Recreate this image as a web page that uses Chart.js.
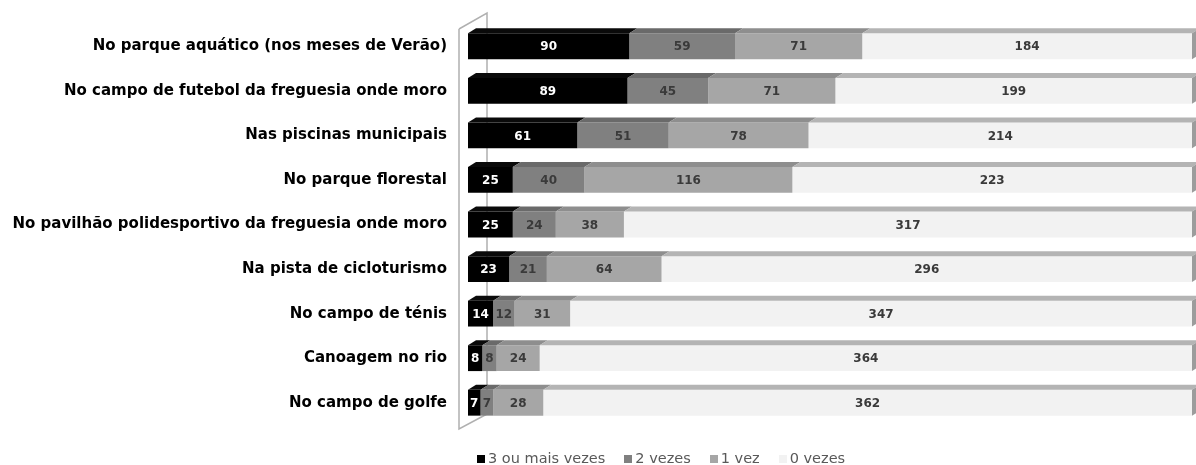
<!DOCTYPE html>
<html>
<head>
<meta charset="utf-8">
<script src="https://cdn.jsdelivr.net/npm/chart.js@4"></script>
<style>
  html, body { margin: 0; padding: 0; background: #fff; }
  #wrap { position: relative; width: 1196px; height: 465px; }
  #legend { position: absolute; left: 477px; top: 450px; font: 14.5px "DejaVu Sans", sans-serif; color: #595959; white-space: nowrap; }
  #legend span.item { margin-right: 19px; }
  #legend i { display: inline-block; width: 8px; height: 8px; margin-right: 3px; vertical-align: 0px; }
</style>
</head>
<body>
<div id="wrap">
  <canvas id="chart" width="1196" height="465"></canvas>
  <div id="legend"></div>
</div>
<script>
// locais e número de vezes que cada um foi frequentado
const locais = [
    'No parque aquático (nos meses de Verão)',
    'No campo de futebol da freguesia onde moro',
    'Nas piscinas municipais',
    'No parque florestal',
    'No pavilhão polidesportivo da freguesia onde moro',
    'Na pista de cicloturismo',
    'No campo de ténis',
    'Canoagem no rio',
    'No campo de golfe'
];
const tresOuMais = [90, 89, 61, 25, 25, 23, 14, 8, 7];
const duasVezes = [59, 45, 51, 40, 24, 21, 12, 8, 7];
const umaVez = [71, 71, 78, 116, 38, 64, 31, 24, 28];
const zeroVezes = [184, 199, 214, 223, 317, 296, 347, 364, 362];

const series = [
    { label: '3 ou mais vezes', data: tresOuMais, cor: '#000000', topo: '#0a0a0a', texto: '#ffffff' },
    { label: '2 vezes', data: duasVezes, cor: '#808080', topo: '#6a6a6a', texto: '#3a3a3a' },
    { label: '1 vez', data: umaVez, cor: '#a6a6a6', topo: '#8e8e8e', texto: '#3a3a3a' },
    { label: '0 vezes', data: zeroVezes, cor: '#f2f2f2', topo: '#b4b4b4', texto: '#3a3a3a' }
];

const DX = 8, DY = 5; // profundidade do efeito 3D

// parede lateral (linhas cinzentas atrás das barras)
const parede = {
    id: 'parede',
    beforeDatasetsDraw(chart) {
        const { ctx, chartArea: a } = chart;
        const xf = a.left - 9, xb = a.left + 19;
        ctx.save();
        ctx.strokeStyle = '#b0b0b0';
        ctx.lineWidth = 1.5;
        ctx.beginPath();
        ctx.moveTo(xf, a.top + 5);
        ctx.lineTo(xf, a.bottom + 4);
        ctx.lineTo(xb, a.bottom - 11);
        ctx.moveTo(xf, a.top + 5);
        ctx.lineTo(xb, a.top - 11);
        ctx.lineTo(xb, a.bottom - 11);
        ctx.stroke();
        ctx.restore();
    }
};

// faces de cima e lateral das barras + valores
const barras3d = {
    id: 'barras3d',
    afterDatasetsDraw(chart) {
        const ctx = chart.ctx;
        ctx.save();
        chart.data.datasets.forEach((ds, i) => {
            const meta = chart.getDatasetMeta(i);
            const s = series[i];
            meta.data.forEach((bar, j) => {
                const { x, y, base, height } = bar.getProps(['x', 'y', 'base', 'height'], true);
                const top = y - height / 2;
                ctx.fillStyle = s.topo;
                ctx.beginPath();
                ctx.moveTo(base, top);
                ctx.lineTo(base + DX, top - DY);
                ctx.lineTo(x + DX, top - DY);
                ctx.lineTo(x, top);
                ctx.closePath();
                ctx.fill();
                if (i === chart.data.datasets.length - 1) {
                    ctx.fillStyle = '#9c9c9c';
                    ctx.beginPath();
                    ctx.moveTo(x, top);
                    ctx.lineTo(x + DX, top - DY);
                    ctx.lineTo(x + DX, top + height - DY);
                    ctx.lineTo(x, top + height);
                    ctx.closePath();
                    ctx.fill();
                }
                ctx.fillStyle = s.texto;
                ctx.font = 'bold 12px "DejaVu Sans", sans-serif';
                ctx.textAlign = 'center';
                ctx.textBaseline = 'middle';
                ctx.fillText(String(ds.data[j]), (x + base) / 2, y + 1);
            });
        });
        ctx.restore();
    }
};

const chart = new Chart(document.getElementById('chart'), {
    type: 'bar',
    data: {
        labels: locais,
        datasets: series.map(s => ({
            label: s.label,
            data: s.data,
            backgroundColor: s.cor,
            borderWidth: 0,
            barPercentage: 0.58,
            categoryPercentage: 1
        }))
    },
    options: {
        indexAxis: 'y',
        responsive: false,
        animation: false,
        layout: { padding: { top: 24, right: 4, bottom: 40, left: 0 } },
        scales: {
            x: { stacked: true, min: 0, max: 404, display: false },
            y: {
                stacked: true,
                grid: { display: false, drawTicks: false },
                border: { display: false },
                ticks: {
                    padding: 21,
                    color: '#000',
                    font: { family: '"DejaVu Sans", sans-serif', size: 15, weight: 'bold' }
                },
                afterFit(scale) {
                    scale.width = 468;
                    // sem margem extra em cima/baixo por causa do padding dos rótulos
                    scale.paddingTop = 0;
                    scale.paddingBottom = 0;
                }
            }
        },
        plugins: { legend: { display: false }, tooltip: { enabled: false } }
    },
    plugins: [parede, barras3d]
});

// legenda
document.getElementById('legend').innerHTML = series.map(s =>
    `<span class="item"><i style="background:${s.cor}"></i>${s.label}</span>`).join('');
</script>
</body>
</html>
